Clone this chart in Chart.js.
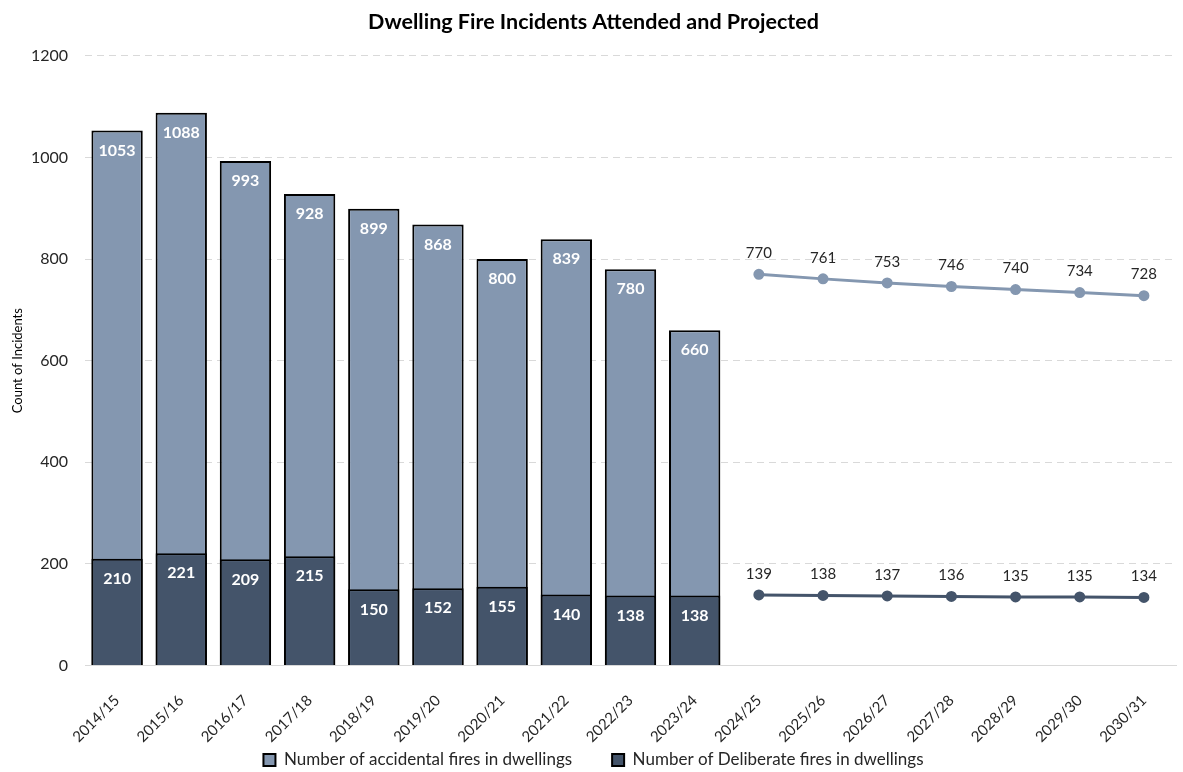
<!DOCTYPE html>
<html><head><meta charset="utf-8">
<script src="https://cdn.jsdelivr.net/npm/chart.js@4"></script>
<style>html,body{margin:0;padding:0;background:#fff;}#wrap{width:1183px;height:772px;}</style>
</head><body><div id="wrap"><canvas id="c"></canvas></div>
<script>
const categories = ['2014/15','2015/16','2016/17','2017/18','2018/19','2019/20','2020/21','2021/22','2022/23','2023/24','2024/25','2025/26','2026/27','2027/28','2028/29','2029/30','2030/31'];
const accidentalActual = [1053,1088,993,928,899,868,800,839,780,660,null,null,null,null,null,null,null];
const deliberateActual = [210,221,209,215,150,152,155,140,138,138,null,null,null,null,null,null,null];
const accidentalProjected = [null,null,null,null,null,null,null,null,null,null,770,761,753,746,740,734,728];
const deliberateProjected = [null,null,null,null,null,null,null,null,null,null,139,138,137,136,135,135,134];
const yTicks = [0,200,400,600,800,1000,1200];

const ACC = '#8497B0', DEL = '#44546A';
const FONT = 'Lato, "Liberation Sans", sans-serif';

const labelPlugin = {
  id: 'valueLabels',
  afterDatasetsDraw(chart) {
    const ctx = chart.ctx;
    chart.data.datasets.forEach((ds, i) => {
      const meta = chart.getDatasetMeta(i);
      meta.data.forEach((el, j) => {
        const v = ds.data[j];
        if (v === null || v === undefined) return;
        ctx.save();
        ctx.textAlign = 'center';
        ctx.textBaseline = 'middle';
        if (ds.type === 'line') {
          ctx.font = '15px ' + FONT;
          ctx.fillStyle = '#262626';
          ctx.fillText(String(v), el.x, el.y - 21);
        } else {
          ctx.font = 'bold 16px ' + FONT;
          ctx.fillStyle = '#ffffff';
          ctx.fillText(String(v), el.x, el.y + 20);
        }
        ctx.restore();
      });
    });
  }
};

const LEGEND_H = 8, LEGEND_CENTER = 760;
const legendShift = {
  id: 'legendShift',
  beforeInit(chart) {
    const lg = chart.legend;
    if (!lg) return;
    const origFit = lg.fit;
    lg.fit = function () { origFit.call(this); this.height = LEGEND_H; };
    const origDraw = lg._draw;
    lg.draw = function () {
      if (!this.options.display) return;
      const c = this.ctx;
      const hb = this.legendHitBoxes && this.legendHitBoxes[0];
      const dy = hb ? LEGEND_CENTER - (hb.top + hb.height / 2) : 0;
      c.save(); c.translate(0, dy); origDraw.call(this); c.restore();
    };
  }
};

new Chart(document.getElementById('c'), {
  data: {
    labels: categories,
    datasets: [
      { type: 'bar', label: 'Number of accidental fires in dwellings', data: accidentalActual,
        backgroundColor: ACC, borderColor: '#000', borderWidth: 2, order: 2,
        barPercentage: 0.8, categoryPercentage: 1.0 },
      { type: 'bar', label: 'Number of Deliberate fires in dwellings', data: deliberateActual,
        backgroundColor: DEL, borderColor: '#000', borderWidth: 2, order: 1,
        barPercentage: 0.8, categoryPercentage: 1.0 },
      { type: 'line', label: 'Projected accidental', data: accidentalProjected,
        borderColor: ACC, backgroundColor: ACC, borderWidth: 3, pointRadius: 4, pointHoverRadius: 4, order: 0 },
      { type: 'line', label: 'Projected deliberate', data: deliberateProjected,
        borderColor: DEL, backgroundColor: DEL, borderWidth: 3, pointRadius: 4, pointHoverRadius: 4, order: 0 }
    ]
  },
  options: {
    responsive: true, maintainAspectRatio: false, animation: false,
    layout: { padding: { left: 4, right: 0, top: 4, bottom: 0 } },
    plugins: {
      title: { display: true, text: 'Dwelling Fire Incidents Attended and Projected',
        font: { family: FONT, size: 21.5, weight: 'bold' }, color: '#000', padding: { top: 5, bottom: 21 } },
      legend: { position: 'bottom',
        labels: { filter: (item) => item.datasetIndex < 2, sort: (a, b) => a.datasetIndex - b.datasetIndex,
          font: { family: FONT, size: 17 }, color: '#262626',
          boxWidth: 12, boxHeight: 12, padding: 40 } },
      tooltip: { enabled: false }
    },
    scales: {
      x: { stacked: true,
        afterFit: (s) => { s.paddingLeft = 0; s.paddingRight = 0; },
        grid: { display: false },
        border: { display: true, color: '#d9d9d9', width: 1 },
        ticks: { maxRotation: 45, minRotation: 45, font: { family: FONT, size: 15 }, color: '#262626', padding: 18 } },
      y: { stacked: false, min: 0, max: 1200,
        afterFit: (s) => { s.width = 81; },
        afterBuildTicks: (s) => { s.ticks = yTicks.map(v => ({ value: v })); },
        grid: { color: '#d9d9d9', lineWidth: 1, drawTicks: false },
        border: { display: false, dash: [7, 5] },
        title: { display: true, text: 'Count of Incidents', font: { family: FONT, size: 13 }, color: '#000', padding: { top: 6, bottom: 8 } },
        ticks: { font: { family: FONT, size: 16 }, color: '#262626', padding: 17, callback: (v) => String(v) } }
    }
  },
  plugins: [labelPlugin, legendShift]
});
</script></body></html>
